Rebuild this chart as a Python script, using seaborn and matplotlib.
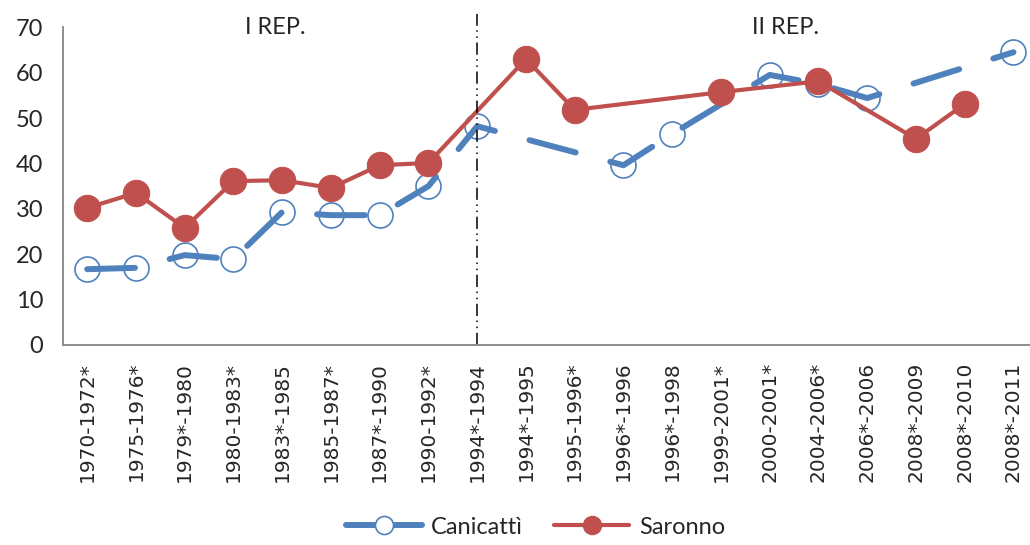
import numpy as np
import pandas as pd
import matplotlib
matplotlib.use("Agg")
import matplotlib.pyplot as plt
import seaborn as sns
from matplotlib.lines import Line2D

# periods on the x axis
periods = ["1970-1972*", "1975-1976*", "1979*-1980", "1980-1983*", "1983*-1985",
           "1985-1987*", "1987*-1990", "1990-1992*", "1994*-1994", "1994*-1995",
           "1995-1996*", "1996*-1996", "1996*-1998", "1999-2001*", "2000-2001*",
           "2004-2006*", "2006*-2006", "2008*-2009", "2008*-2010", "2008*-2011"]

# values (nan = no point for that period)
canicatti = [16.7, 17.0, 19.8, 18.9, 29.3, 28.6, 28.6, 35.0, 48.2, np.nan,
             np.nan, 39.6, 46.5, np.nan, 59.5, 57.5, 54.4, np.nan, np.nan, 64.5]
saronno = [30.2, 33.5, 25.8, 36.1, 36.3, 34.6, 39.6, 40.1, np.nan, 63.0,
           51.8, np.nan, np.nan, 55.7, np.nan, 58.1, np.nan, 45.4, 53.1, np.nan]

split_period = "1994*-1994"   # boundary between I and II Republic

df = pd.DataFrame({"periodo": periods, "Canicattì": canicatti, "Saronno": saronno})
df["pos"] = np.arange(len(df))

sns.set_style("white")
plt.rcParams["font.family"] = ["Lato", "DejaVu Sans"]

blue = "#4F81BD"
red = "#C0504D"

fig = plt.figure(figsize=(10.3, 5.45), dpi=100)
ax = fig.add_axes([0.061, 0.367, 0.9466, 0.583])

# Canicattì: thick dashed line, open circles, gaps bridged
can = df.dropna(subset=["Canicattì"])
sns.lineplot(data=can, x="pos", y="Canicattì", ax=ax, color=blue, linewidth=4.3,
             linestyle=(0, (8.0, 6.0)), dash_capstyle="round", sort=False,
             marker="o", markersize=18, markerfacecolor="none",
             markeredgecolor=blue, markeredgewidth=1.2)

# Saronno: solid line, filled circles
sar = df.dropna(subset=["Saronno"])
sns.lineplot(data=sar, x="pos", y="Saronno", ax=ax, color=red, linewidth=3,
             sort=False, marker="o", markersize=19, markerfacecolor=red,
             markeredgecolor=red)

# vertical separator
xs = periods.index(split_period)
ax.plot([xs, xs], [0, 73], color="black", linewidth=1.1,
        linestyle=(0, (8, 3, 1, 3, 1, 3)), clip_on=False)

ax.text(3.86, 70, "I REP.", ha="center", va="center", fontsize=17)
ax.text(14.33, 70, "II REP.", ha="center", va="center", fontsize=17)

ax.set_xlim(-0.5, len(periods) - 0.5)
ax.set_ylim(0, 70)
ax.set_yticks(range(0, 71, 10))
ax.set_xticks(df["pos"])
ax.set_xticklabels(periods, rotation=90, family="DejaVu Sans", fontsize=14.5)
ax.tick_params(axis="y", length=0, pad=14, labelsize=17)
ax.tick_params(axis="x", length=0, pad=12)
ax.set_xlabel("")
ax.set_ylabel("")

for side in ["top", "right"]:
    ax.spines[side].set_visible(False)
for side in ["left", "bottom"]:
    ax.spines[side].set_color("#868686")
    ax.spines[side].set_linewidth(1.3)

handles = [
    Line2D([], [], color=blue, linewidth=4.3, marker="o", markersize=13,
           markerfacecolor="white", markeredgecolor=blue, markeredgewidth=1.2),
    Line2D([], [], color=red, linewidth=3, marker="o", markersize=13,
           markerfacecolor=red, markeredgecolor=red),
]
fig.legend(handles, ["Canicattì", "Saronno"], loc="center",
           bbox_to_anchor=(0.52, 0.033), ncol=2, frameon=False, fontsize=17,
           handlelength=3.2, handletextpad=0.4, columnspacing=1.3)

fig.savefig("out.png", dpi=100)
